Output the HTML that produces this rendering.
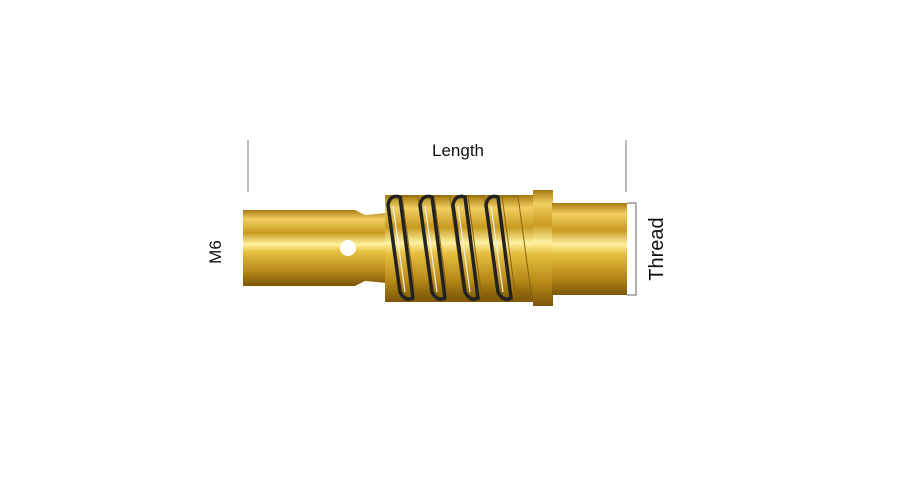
<!DOCTYPE html>
<html><head><style>
html,body{margin:0;padding:0;background:#fff;width:900px;height:500px;overflow:hidden}
</style></head><body>
<svg width="900" height="500" xmlns="http://www.w3.org/2000/svg" font-family="Liberation Sans, sans-serif">
<defs>
<linearGradient id="g" x1="0" y1="0" x2="0" y2="1">
<stop offset="0" stop-color="#a87a10"/>
<stop offset="0.12" stop-color="#f0d060"/>
<stop offset="0.3" stop-color="#c99a20"/>
<stop offset="0.45" stop-color="#fff2a0"/>
<stop offset="0.55" stop-color="#e6c040"/>
<stop offset="0.8" stop-color="#b88a18"/>
<stop offset="1" stop-color="#7a5608"/>
</linearGradient>
</defs>
<rect width="900" height="500" fill="#fff"/>
<line x1="248" y1="140" x2="248" y2="192" stroke="#555" stroke-width="0.8"/>
<line x1="626" y1="140" x2="626" y2="192" stroke="#555" stroke-width="0.8"/>
<text x="458" y="156" font-size="17" text-anchor="middle" fill="#111">Length</text>
<path d="M243 210 L355 210 L365 215 L387 213 L387 283 L365 281 L355 286 L243 286 Z" fill="url(#g)"/>
<circle cx="348" cy="248" r="8" fill="#fff"/>
<rect x="385" y="195" width="150" height="107" fill="url(#g)"/>
<g stroke="#8a6410" stroke-width="1">
<path d="M402 196 L418 196 L432 300 L416 300 Z" fill="url(#g)"/>
<path d="M434 196 L450 196 L464 300 L448 300 Z" fill="url(#g)"/>
<path d="M468 196 L484 196 L498 300 L482 300 Z" fill="url(#g)"/>
<path d="M502 196 L518 196 L532 300 L516 300 Z" fill="url(#g)"/>
</g>
<g fill="none" stroke="#222" stroke-width="3.5">
<path d="M388 205 Q390 194 400 197 L413 298 Q405 302 400 292 Z"/>
<path d="M420 205 Q422 194 432 197 L445 298 Q437 302 432 292 Z"/>
<path d="M453 205 Q455 194 465 197 L478 298 Q470 302 465 292 Z"/>
<path d="M486 205 Q488 194 498 197 L511 298 Q503 302 498 292 Z"/>
</g>
<g fill="none" stroke="#eee" stroke-width="1.2">
<path d="M393 206 L405 292"/><path d="M425 206 L437 292"/><path d="M458 206 L470 292"/><path d="M491 206 L503 292"/>
</g>
<rect x="533" y="190" width="20" height="116" fill="url(#g)"/>
<rect x="552" y="203" width="75" height="92" fill="url(#g)"/>
<path d="M627 203 L636 203 L636 295 L627 295" fill="none" stroke="#666" stroke-width="1"/>
<text transform="translate(663,249) rotate(-90)" font-size="20" text-anchor="middle" fill="#111">Thread</text>
<text transform="translate(221,252) rotate(-90)" font-size="17" text-anchor="middle" fill="#111">M6</text>
</svg>
</body></html>
